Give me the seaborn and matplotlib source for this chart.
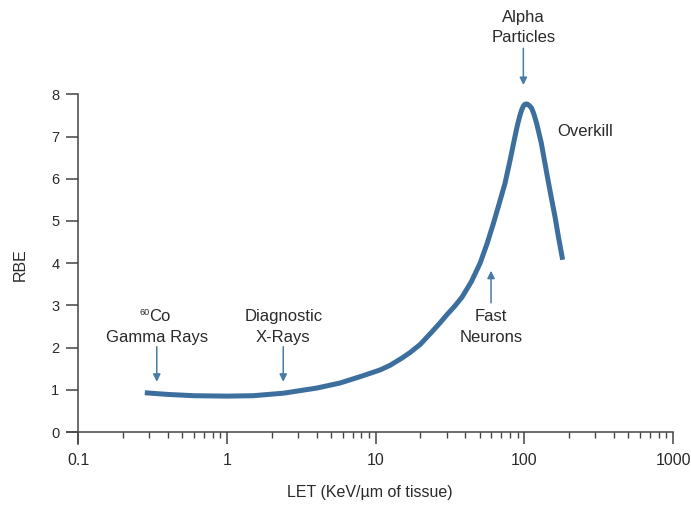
import numpy as np
import pandas as pd
import matplotlib
matplotlib.use("Agg")
import matplotlib.pyplot as plt
import seaborn as sns
from matplotlib.ticker import FixedLocator, NullFormatter

# ---- data ----
let_values = [0.28, 0.4, 0.6, 1.0, 1.5, 2.4, 4.0, 5.75, 8.0, 10.7, 12.5, 15.0, 17.0,
              20.0, 24.0, 27.0, 30.0, 34.0, 38.0, 44.0, 50.4, 56.0, 61.8, 68.0, 74.1,
              80.0, 86.5, 90.0, 93.6, 96.0, 98.5, 100.5, 102.6, 104.5, 106.5, 109.0,
              112.0, 116.0, 121.0, 130.0, 141.5, 150.0, 160.8, 170.0, 181.0]
rbe_values = [0.93, 0.89, 0.86, 0.85, 0.86, 0.92, 1.04, 1.16, 1.32, 1.47, 1.58, 1.75, 1.88,
              2.08, 2.38, 2.58, 2.77, 2.98, 3.19, 3.56, 4.00, 4.45, 4.93, 5.43, 5.89,
              6.42, 7.00, 7.28, 7.51, 7.63, 7.72, 7.76, 7.77, 7.77, 7.75, 7.72,
              7.67, 7.53, 7.31, 6.85, 6.13, 5.65, 5.10, 4.60, 4.08]

x_tick_values = [0.1, 1, 10, 100, 1000]
x_tick_labels = ["0.1", "1", "10", "100", "1000"]
y_tick_values = [0, 1, 2, 3, 4, 5, 6, 7, 8]

x_title = "LET (KeV/\u00b5m of tissue)"
y_title = "RBE"

sns.set_theme(style="white")
plt.rcParams["font.family"] = ["Liberation Sans", "DejaVu Sans"]

W, H = 691, 507
fig = plt.figure(figsize=(W / 100, H / 100), dpi=100)
fig.patch.set_facecolor("white")

# pixel geometry
x_left_px, x_right_px = 67.3, 673.0
y_bottom_px, y_top_px = 444.0, 94.3
ax = fig.add_axes([x_left_px / W, (H - y_bottom_px) / H,
                   (x_right_px - x_left_px) / W, (y_bottom_px - y_top_px) / H])
ax.set_facecolor("white")

df = pd.DataFrame({"LET": let_values, "RBE": rbe_values})
line_color = "#3d6f9e"
sns.lineplot(data=df, x="LET", y="RBE", ax=ax, color=line_color, linewidth=3.6,
             sort=False, estimator=None)
for l in ax.get_lines():
    l.set_solid_capstyle("butt")
    l.set_solid_joinstyle("round")

ax.set_xscale("log")
ax.set_xlim(0.0843, 1000)
ax.set_ylim(-0.284, 8)

axis_color = "#444444"
for s in ["top", "right"]:
    ax.spines[s].set_visible(False)
ax.spines["left"].set_position(("data", 0.1))
ax.spines["bottom"].set_position(("data", 0))
for s in ["left", "bottom"]:
    ax.spines[s].set_color(axis_color)
    ax.spines[s].set_linewidth(1.1)

ax.xaxis.set_major_locator(FixedLocator(x_tick_values))
ax.set_xticklabels(x_tick_labels)
minor = [m * d for d in [0.1, 1, 10, 100] for m in range(2, 10)]
ax.xaxis.set_minor_locator(FixedLocator(minor))
ax.xaxis.set_minor_formatter(NullFormatter())
ax.set_yticks(y_tick_values)
ax.set_yticklabels([str(v) for v in y_tick_values])

ax.tick_params(axis="x", which="major", direction="out", length=8.6, width=1.1,
               color=axis_color, labelsize=11.5, labelcolor="#2a2a2a", pad=6.5,
               bottom=True)
ax.tick_params(axis="x", which="minor", direction="out", length=4.3, width=1.0,
               color=axis_color, bottom=True)
ax.tick_params(axis="y", which="major", direction="out", length=8.6, width=1.1,
               color=axis_color, labelsize=10.5, labelcolor="#2a2a2a", pad=5, left=True)
ax.set_xlabel("")
ax.set_ylabel("")

text_color = "#2a2a2a"
fig.text(370 / W, 1 - 493 / H, x_title, ha="center", va="center", fontsize=11.5, color=text_color)
fig.text(20 / W, 1 - 265 / H, y_title, ha="center", va="center", rotation=90,
         fontsize=11.5, color=text_color)

# annotations
arrow_color = "#4a7aa6"
ann_fs = 12
arrow_kw = dict(arrowstyle="-|>", color=arrow_color, lw=1.1, mutation_scale=11,
                shrinkA=0, shrinkB=0)

# 60Co Gamma Rays (superscript drawn as a small separate text)
ax.text(0.299, 2.73, "Co", ha="left", va="center", fontsize=ann_fs, color=text_color, clip_on=False)
ax.text(0.258, 2.84, "60", ha="left", va="center", fontsize=6.5, color=text_color, clip_on=False)
ax.text(0.337, 2.25, "Gamma Rays", ha="center", va="center", fontsize=ann_fs, color=text_color, clip_on=False)
ax.annotate("", xy=(0.337, 1.19), xytext=(0.337, 2.02), arrowprops=arrow_kw, annotation_clip=False)

# Diagnostic X-Rays
ax.text(2.39, 2.73, "Diagnostic", ha="center", va="center", fontsize=ann_fs, color=text_color, clip_on=False)
ax.text(2.39, 2.25, "X-Rays", ha="center", va="center", fontsize=ann_fs, color=text_color, clip_on=False)
ax.annotate("", xy=(2.39, 1.19), xytext=(2.39, 2.02), arrowprops=arrow_kw, annotation_clip=False)

# Fast neurons
ax.text(59.7, 2.73, "Fast", ha="center", va="center", fontsize=ann_fs, color=text_color, clip_on=False)
ax.text(59.7, 2.25, "Neurons", ha="center", va="center", fontsize=ann_fs, color=text_color, clip_on=False)
ax.annotate("", xy=(59.7, 3.82), xytext=(59.7, 3.06), arrowprops=arrow_kw, annotation_clip=False)

# Alpha particles
ax.text(98.5, 9.81, "Alpha", ha="center", va="center", fontsize=ann_fs, color=text_color, clip_on=False)
ax.text(98.5, 9.34, "Particles", ha="center", va="center", fontsize=ann_fs, color=text_color, clip_on=False)
ax.annotate("", xy=(98.5, 8.22), xytext=(98.5, 9.09), arrowprops=arrow_kw, annotation_clip=False)

# Overkill
ax.text(166, 7.13, "Overkill", ha="left", va="center", fontsize=ann_fs, color=text_color, clip_on=False)

fig.savefig("out.png", dpi=100, facecolor="white")
